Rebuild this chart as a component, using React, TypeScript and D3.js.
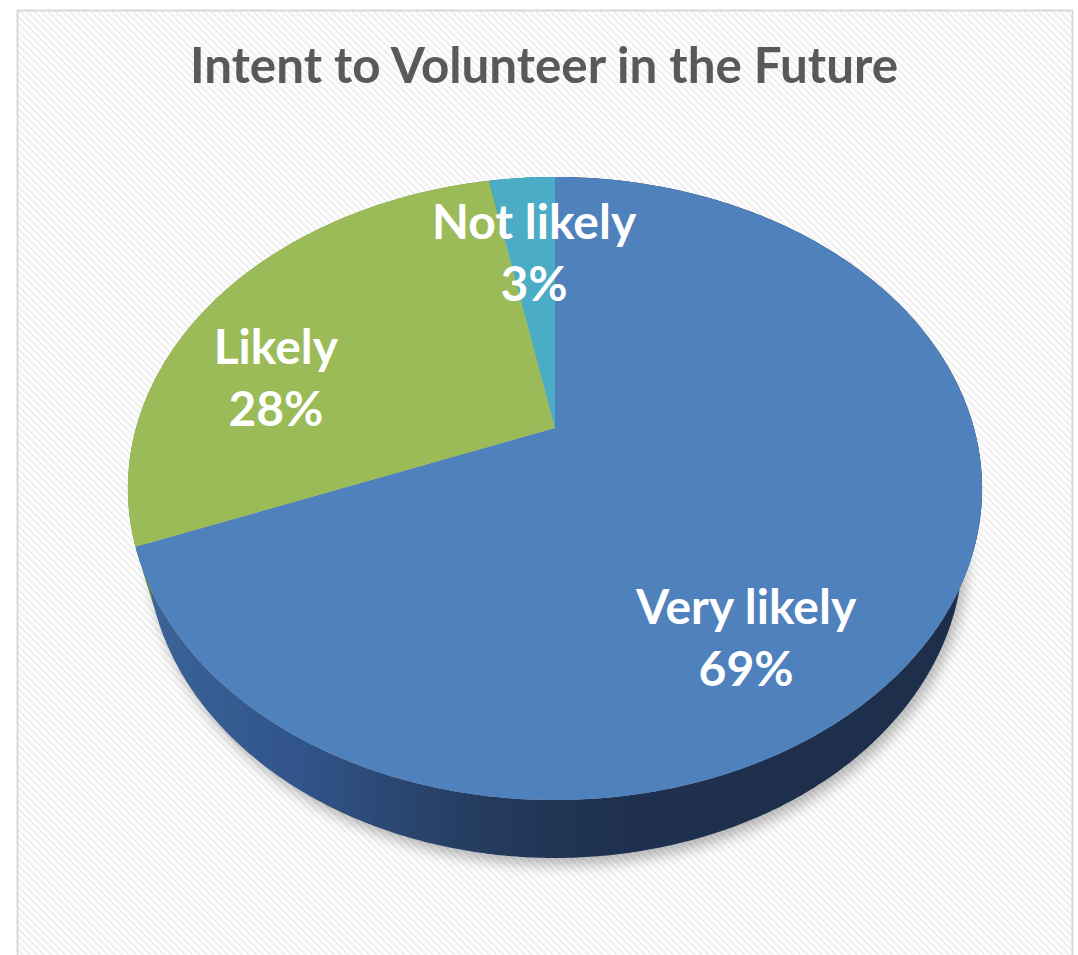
import React from "react";
import * as d3 from "d3";

// ---- data ----
const categories = ["Very likely", "Likely", "Not likely"];
const values = [69, 28, 3];
const percentLabels = ["69%", "28%", "3%"];
const title = "Intent to Volunteer in the Future";

// ---- style ----
const topColors = ["#4f81bd", "#9bbb59", "#4bacc6"];
const sideStops = [
  [
    ["0%", "#3c6699"],
    ["20%", "#31548a"],
    ["40%", "#253d60"],
    ["55%", "#1f3150"],
    ["100%", "#1d2e4a"],
  ],
  [
    ["0%", "#6f8c3c"],
    ["100%", "#4d6426"],
  ],
  [
    ["0%", "#2f7f96"],
    ["100%", "#1f5a6b"],
  ],
];

// label placement in disc polar coords (angle in degrees from top, radius fraction)
const labelPolar = [
  { angle: 148.9, r: 0.77 },
  { angle: 279.4, r: 0.69 },
  { angle: 354.6, r: 0.59 },
];

const W = 1078;
const H = 955;

// perspective projection of a tilted disc
const cx = 555;
const cy = 428;
const focal = 1507;
const dist = 3.597;
const sinPhi = 0.7155;
const cosPhi = 0.6985;
const thick = 0.2255;

function project(theta: number, r: number, y: number): [number, number] {
  const X = r * Math.sin(theta);
  const Z = r * Math.cos(theta);
  const yc = Z * sinPhi + y * cosPhi;
  const depth = dist + Z * cosPhi - y * sinPhi;
  return [cx + (focal * X) / depth, cy - (focal * yc) / depth];
}

function arcPoints(a0: number, a1: number, y: number): [number, number][] {
  const n = Math.max(2, Math.ceil(Math.abs(a1 - a0) / (Math.PI / 360)));
  const pts: [number, number][] = [];
  for (let i = 0; i <= n; i++) {
    const t = a0 + ((a1 - a0) * i) / n;
    pts.push(project(t, 1, y));
  }
  return pts;
}

export default function App() {
  const arcs = d3
    .pie<number>()
    .sort(null)
    .startAngle(0)
    .endAngle(2 * Math.PI)(values);

  const line = d3
    .line<[number, number]>()
    .x((d) => d[0])
    .y((d) => d[1]);

  const topPaths = arcs.map((a) => {
    const pts: [number, number][] = [project(0, 0, 0), ...arcPoints(a.startAngle, a.endAngle, 0)];
    return line(pts) + "Z";
  });

  const sidePaths = arcs.map((a) => {
    const topE = arcPoints(a.startAngle, a.endAngle, 0);
    const botE = arcPoints(a.startAngle, a.endAngle, -thick).reverse();
    return line([...topE, ...botE]) + "Z";
  });

  const shadowPath = line(arcPoints(0, 2 * Math.PI, -thick)) + "Z";

  // horizontal extent of the disc for gradients
  const allPts = arcPoints(0, 2 * Math.PI, 0);
  const xMin = d3.min(allPts, (p) => p[0]) as number;
  const xMax = d3.max(allPts, (p) => p[0]) as number;

  const labelFont = "Lato, 'Open Sans', sans-serif";

  return (
    <svg
      width={W}
      height={H}
      style={{ position: "absolute", left: 0, top: 0, display: "block" }}
      xmlns="http://www.w3.org/2000/svg"
    >
      <defs>
        <pattern
          id="stripes"
          width={5}
          height={5}
          patternUnits="userSpaceOnUse"
          patternTransform="rotate(-45)"
        >
          <rect width={5} height={5} fill="#ffffff" />
          <rect width={2.2} height={5} fill="#efefef" />
        </pattern>
        {sideStops.map((stops, i) => (
          <linearGradient
            key={i}
            id={`side${i}`}
            gradientUnits="userSpaceOnUse"
            x1={xMin}
            x2={xMax}
            y1={0}
            y2={0}
          >
            {stops.map(([o, c], j) => (
              <stop key={j} offset={o} stopColor={c} />
            ))}
          </linearGradient>
        ))}
        <filter id="blur" x="-20%" y="-20%" width="140%" height="140%">
          <feGaussianBlur stdDeviation={7} />
        </filter>
      </defs>

      <rect x={0} y={0} width={W} height={H} fill="#ffffff" />
      <rect
        x={17.5}
        y={10.5}
        width={1055}
        height={H + 20}
        fill="url(#stripes)"
        stroke="#d9d9d9"
        strokeWidth={2}
      />

      <text
        x={544}
        y={83}
        textAnchor="middle"
        fontFamily={labelFont}
        fontWeight={700}
        fontSize={49}
        fill="#595959"
        textLength={708}
        lengthAdjust="spacingAndGlyphs"
      >
        {title}
      </text>

      <path
        d={shadowPath}
        fill="#000"
        opacity={0.28}
        filter="url(#blur)"
        transform="translate(4,7)"
      />

      {sidePaths.map((d, i) => (
        <path key={`s${i}`} d={d} fill={`url(#side${i})`} />
      ))}
      {topPaths.map((d, i) => (
        <path key={`t${i}`} d={d} fill={topColors[i]} />
      ))}

      {categories.map((c, i) => {
        const lp = labelPolar[i];
        const [lx, ly] = project((lp.angle * Math.PI) / 180, lp.r, 0);
        return (
          <g key={`l${i}`} fontFamily={labelFont} fontWeight={700} fontSize={48} fill="#ffffff" textAnchor="middle">
            <text x={lx} y={ly - 31}>{c}</text>
            <text x={lx} y={ly + 31}>{percentLabels[i]}</text>
          </g>
        );
      })}
    </svg>
  );
}
